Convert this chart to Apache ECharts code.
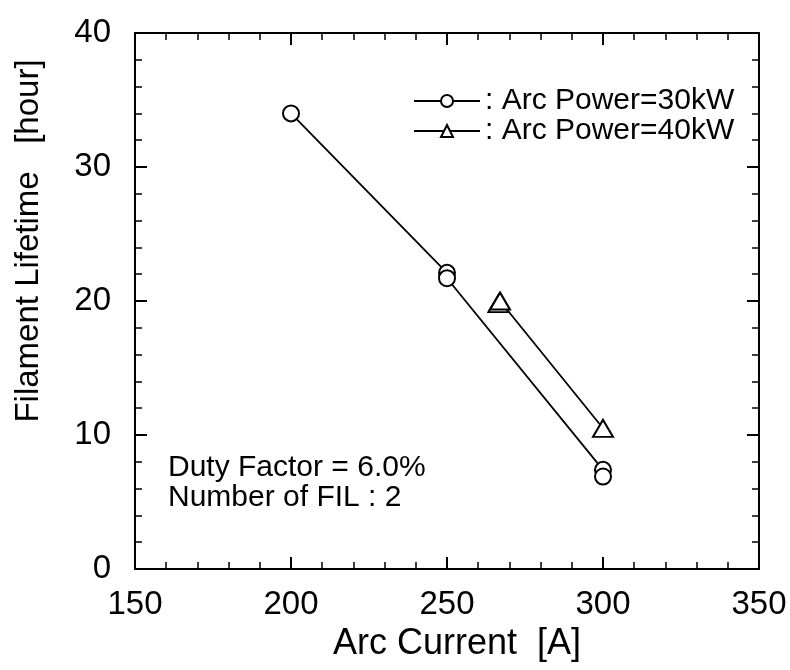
<!DOCTYPE html>
<html>
<head>
<meta charset="utf-8">
<script src="https://cdn.jsdelivr.net/npm/echarts@6/dist/echarts.min.js"></script>
<style>
  html, body { margin: 0; padding: 0; background: #fff; }
  #chart { width: 790px; height: 670px; }
</style>
</head>
<body>
<div id="chart"></div>
<script>
// values
const power30Name = 'Arc Power=30kW';
const power30 = [[200, 34.0], [250, 22.1], [250, 21.7], [300, 7.4], [300, 6.9]];
const power40Name = 'Arc Power=40kW';
const power40 = [[266.5, 19.8], [267, 20.0], [300, 10.5]];
const notes = ['Duty Factor = 6.0%', 'Number of FIL : 2'];

const font = "'Liberation Sans', Arial, sans-serif";

function frameAxis(pos, min, max, interval, showLabel) {
  return {
    type: 'value',
    position: pos,
    min: min,
    max: max,
    interval: interval,
    axisLine: { show: true, onZero: false, lineStyle: { color: '#000', width: 2 } },
    axisTick: { show: true, inside: true, length: 12, lineStyle: { color: '#000', width: 2 } },
    minorTick: { show: true, splitNumber: 5, length: 7, lineStyle: { color: '#000', width: 1.5 } },
    splitLine: { show: false },
    axisLabel: {
      show: showLabel,
      color: '#000',
      fontFamily: font,
      fontSize: 33,
      margin: pos === 'left' ? 24 : 19
    }
  };
}

const chart = echarts.init(document.getElementById('chart'));

const xBottom = frameAxis('bottom', 150, 350, 50, true);
xBottom.name = 'Arc Current  [A]';
xBottom.nameLocation = 'middle';
xBottom.nameGap = 52;
xBottom.nameTextStyle = { color: '#000', fontFamily: font, fontSize: 36, padding: [0, 0, 0, 20] };

const yLeft = frameAxis('left', 0, 40, 10, true);

chart.setOption({
  backgroundColor: '#fff',
  animation: false,
  grid: { left: 135, right: 31, top: 33, bottom: 101 },
  xAxis: [xBottom, frameAxis('top', 150, 350, 50, false)],
  yAxis: [yLeft, frameAxis('right', 0, 40, 10, false)],
  legend: {
    orient: 'vertical',
    left: 408,
    top: 81,
    itemWidth: 66,
    itemHeight: 15,
    itemGap: 0,
    formatter: ': {name}',
    textStyle: { color: '#000', fontFamily: font, fontSize: 30, lineHeight: 29 },
    data: [power30Name, power40Name]
  },
  graphic: [
    {
      type: 'text',
      left: 168,
      top: 453,
      style: {
        text: notes.join('\n'),
        fill: '#000',
        font: '30px ' + font,
        lineHeight: 30
      }
    },
    {
      type: 'text',
      x: 29,
      y: 241,
      rotation: Math.PI / 2,
      style: {
        text: 'Filament Lifetime   [hour]',
        fill: '#000',
        font: '33px ' + font,
        align: 'center',
        verticalAlign: 'middle'
      }
    }
  ],
  series: [
    {
      name: power30Name,
      type: 'line',
      data: power30,
      symbol: 'circle',
      symbolSize: 16,
      itemStyle: { color: '#fff', borderColor: '#000', borderWidth: 2 },
      lineStyle: { color: '#000', width: 1.8 }
    },
    {
      name: power40Name,
      type: 'line',
      data: power40,
      symbol: 'triangle',
      symbolSize: [20, 17],
      itemStyle: { color: '#fff', borderColor: '#000', borderWidth: 2 },
      lineStyle: { color: '#000', width: 1.8 }
    }
  ]
});
</script>
</body>
</html>
